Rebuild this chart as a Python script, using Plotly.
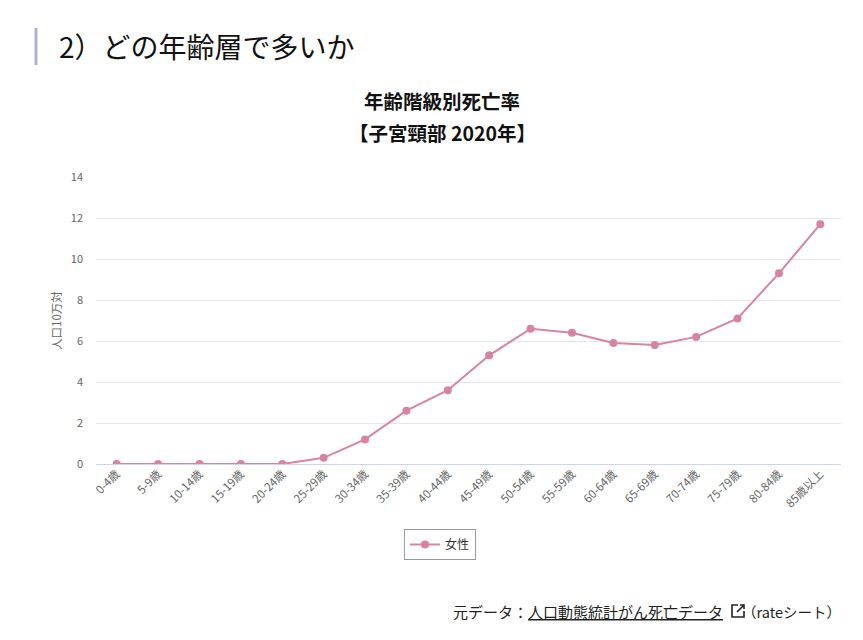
import plotly.graph_objects as go

categories = ["0-4歳", "5-9歳", "10-14歳", "15-19歳", "20-24歳", "25-29歳", "30-34歳",
              "35-39歳", "40-44歳", "45-49歳", "50-54歳", "55-59歳", "60-64歳", "65-69歳",
              "70-74歳", "75-79歳", "80-84歳", "85歳以上"]
female = [0, 0, 0, 0, 0, 0.3, 1.2, 2.6, 3.6, 5.3, 6.6, 6.4, 5.9, 5.8, 6.2, 7.1, 9.3, 11.7]
y_ticks = [0, 2, 4, 6, 8, 10, 12, 14]

FONT = "Noto Sans CJK JP"
PINK = "#d9849f"

OFF = 8  # page body offset
FW, FH = 863 - OFF, 640 - OFF
# plot area in screen pixels
L, R, T, B = 96, 841, 177, 464
W, H = R - L, B - T

def px(x):
    return (x - L) / W

def py(y):
    return (B - y) / H

fig = go.Figure()
fig.add_trace(go.Scatter(
    x=categories, y=female, mode="lines+markers", name="女性",
    line=dict(color=PINK, width=2),
    marker=dict(color=PINK, size=8),
))

fig.update_layout(
    width=FW, height=FH,
    paper_bgcolor="white", plot_bgcolor="white",
    font=dict(family=FONT, color="#333"),
    margin=dict(l=L - OFF, r=FW - (R - OFF), t=T - OFF, b=FH - (B - OFF), autoexpand=False),
    showlegend=True,
    legend=dict(orientation="h", x=px(440), xanchor="center", y=py(529), yanchor="top",
                bordercolor="#999", borderwidth=1, font=dict(size=12, color="#333")),
    xaxis=dict(type="category", tickangle=-45, tickfont=dict(size=11.5, color="#666"),
               showgrid=False, showline=False, ticks="", automargin=False,
               range=[-0.5, len(categories) - 0.5]),
    yaxis=dict(range=[0, 14], tickvals=y_ticks, tickfont=dict(size=11, color="#666"),
               gridcolor="#e6e6e6", zeroline=True, zerolinecolor="#ccd6eb", zerolinewidth=1,
               automargin=False, ticklabelstandoff=12,
               title=dict(text="人口10万対", font=dict(size=11.5, color="#666"), standoff=6)),
)

# page heading
fig.add_annotation(xref="paper", yref="paper", x=px(57), y=py(46), xanchor="left", yanchor="middle",
                   text="2）どの年齢層で多いか", showarrow=False,
                   font=dict(size=28, color="#111", family=FONT))
fig.add_shape(type="line", xref="paper", yref="paper", x0=px(36), x1=px(36), y0=py(28), y1=py(65),
              line=dict(color="#aab4cc", width=3))
# chart title
fig.add_annotation(xref="paper", yref="paper", x=px(442), y=py(101), xanchor="center", yanchor="middle",
                   text="<b>年齢階級別死亡率</b>", showarrow=False,
                   font=dict(size=19.5, color="#111"))
fig.add_annotation(xref="paper", yref="paper", x=px(442), y=py(133), xanchor="center", yanchor="middle",
                   text="<b>【子宮頸部 2020年】</b>", showarrow=False,
                   font=dict(size=19.5, color="#111"))
# source
fig.add_annotation(xref="paper", yref="paper", x=px(725), y=py(611), xanchor="right", yanchor="middle",
                   text="元データ：<u>人口動態統計がん死亡データ</u>", showarrow=False,
                   font=dict(size=15, color="#222"))
fig.add_annotation(xref="paper", yref="paper", x=px(843), y=py(611), xanchor="right", yanchor="middle",
                   text="（rateシート）", showarrow=False,
                   font=dict(size=14.5, color="#222"))
# external link icon
fig.add_shape(type="path", xref="paper", yref="paper",
              path=f"M {px(738)},{py(605)} L {px(732)},{py(605)} L {px(732)},{py(617)} "
                   f"L {px(744)},{py(617)} L {px(744)},{py(611)}",
              line=dict(color="#222", width=1.6))
fig.add_shape(type="path", xref="paper", yref="paper",
              path=f"M {px(737)},{py(612)} L {px(744)},{py(605)} M {px(740)},{py(605)} "
                   f"L {px(744)},{py(605)} L {px(744)},{py(609)}",
              line=dict(color="#222", width=1.6))

fig.write_html("out.html")
